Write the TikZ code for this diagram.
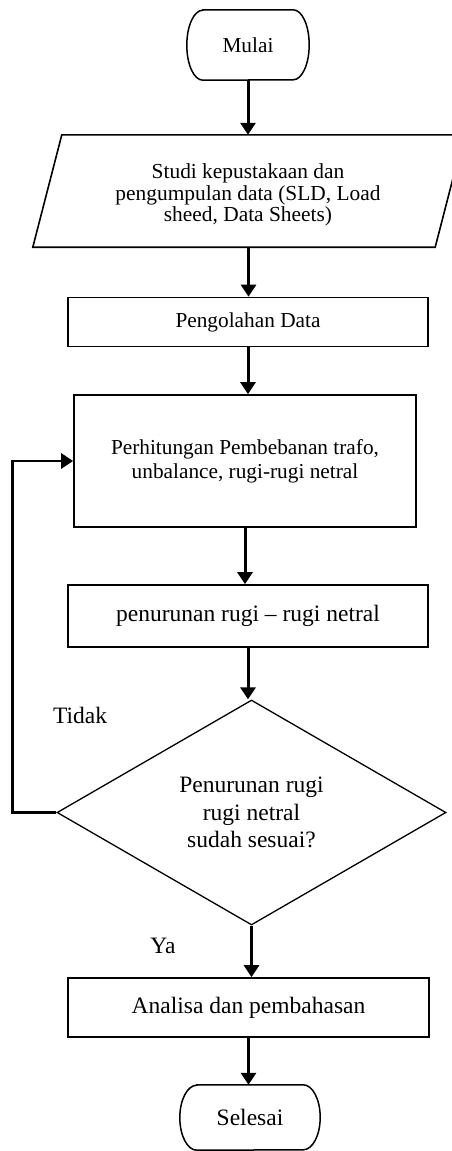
\documentclass[tikz,border=0pt]{standalone}
\usepackage{fontspec}
\setmainfont{Liberation Serif}
\usetikzlibrary{arrows.meta,shapes.geometric}
\begin{document}
\begin{tikzpicture}[x=1pt,y=-1pt,
  box/.style={draw,line width=1.6pt,inner sep=0pt,align=center},
  term/.style={inner sep=0pt},
  termline/.style={line width=1.5pt},
  dec/.style={draw,diamond,line width=1.3pt,inner sep=0pt,aspect=1.73,align=center},
  arr/.style={line width=3pt,-{Triangle[width=15pt,length=12pt]}},
  fa/.style={font=\fontsize{21.3}{24.3}\selectfont},
  fb/.style={font=\fontsize{23.5}{27.5}\selectfont},
]
\useasboundingbox (0,0) rectangle (451,1151);
% nodes
\node[term,fa,minimum width=122pt,minimum height=70pt] (mulai) at (248,45) {Mulai};
\draw[termline] ([xshift=16pt]mulai.north west) -- ([xshift=-16pt]mulai.north east)
  arc[start angle=90,end angle=-90,x radius=16pt,y radius=35pt]
  -- ([xshift=16pt]mulai.south west)
  arc[start angle=270,end angle=90,x radius=16pt,y radius=35pt] -- cycle;
\node[inner sep=0pt,minimum width=431pt,minimum height=112pt] (studi) at (248.5,191) {};
\draw[line width=1.6pt] ([xshift=29pt]studi.north west) -- (studi.north east)
  -- ([xshift=-29pt]studi.south east) -- (studi.south west) -- cycle;
\node[align=center,font=\fontsize{21.4}{21.7}\selectfont] (studitxt) at (248,195)
  {Studi kepustakaan dan\\pengumpulan data (SLD, Load\\sheed, Data Sheets)};
\node[box,fa,minimum width=360pt,minimum height=49pt] (olah) at (248,322) {Pengolahan Data};
\node[box,fa,minimum width=342pt,minimum height=132pt] (perh) at (245,461)
  {Perhitungan Pembebanan trafo,\\unbalance, rugi-rugi netral};
\node[box,fb,minimum width=360pt,minimum height=62pt] (turun) at (248,616) {penurunan rugi -- rugi netral};
\node[dec,fb,minimum width=389pt,minimum height=225pt] (cek) at (251.5,812.5)
  {Penurunan rugi\\rugi netral\\sudah sesuai?};
\node[box,fb,minimum width=361pt,minimum height=59pt] (analisa) at (248.5,1007.5) {Analisa dan pembahasan};
\node[term,fb,minimum width=140pt,minimum height=65pt] (selesai) at (250,1117.5) {Selesai};
\draw[termline] ([xshift=17pt]selesai.north west) -- ([xshift=-17pt]selesai.north east)
  arc[start angle=90,end angle=-90,x radius=17pt,y radius=32.5pt]
  -- ([xshift=17pt]selesai.south west)
  arc[start angle=270,end angle=90,x radius=17pt,y radius=32.5pt] -- cycle;
\node[fb] (tidak) at (80,715) {Tidak};
\node[fb] (ya) at (163,946) {Ya};
% connectors
\draw[arr] (mulai.south) -- (mulai.south |- studi.north);
\draw[arr] (studi.south) -- (studi.south |- olah.north);
\draw[arr] (olah.south) -- (olah.south |- perh.north);
\draw[arr] (perh.south) -- (perh.south |- turun.north);
\draw[arr] (turun.south) -- (turun.south |- cek.north);
\draw[arr] (cek.south) -- (cek.south |- analisa.north);
\draw[arr] (analisa.south) -- (analisa.south |- selesai.north);
\draw[arr,line width=2.8pt] (cek.west) -- ++(-44,0) |- (perh.west);
\end{tikzpicture}
\end{document}
